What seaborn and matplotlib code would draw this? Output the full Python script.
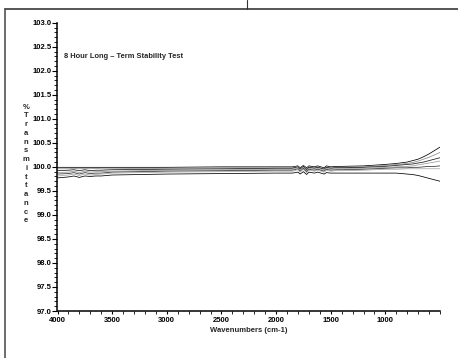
import numpy as np
import pandas as pd
import matplotlib
matplotlib.use("Agg")
import matplotlib.pyplot as plt
from matplotlib.lines import Line2D
from matplotlib.ticker import MultipleLocator, FormatStrFormatter
import seaborn as sns

wavenumbers = [4000, 3900, 3850, 3800, 3750, 3700, 3650, 3600, 3500, 3000, 2500,
               2000, 1850, 1800, 1780, 1750, 1720, 1700, 1650, 1620, 1560, 1540,
               1500, 1450, 1400, 1200, 1000, 900, 800, 750, 700, 650, 600, 550, 500]

# %T for each repeated scan
scan_1 = [99.99, 99.99, 99.99, 99.99, 99.99, 99.99, 99.99, 99.99, 99.99, 99.99, 100.00,
          100.00, 100.00, 100.02, 99.98, 100.03, 99.98, 100.02, 100.00, 100.02, 99.98, 100.02,
          100.00, 100.01, 100.01, 100.02, 100.05, 100.07, 100.10, 100.13, 100.16, 100.21, 100.27, 100.34, 100.41]
scan_2 = [99.96, 99.96, 99.97, 99.96, 99.97, 99.96, 99.97, 99.96, 99.96, 99.97, 99.98,
          99.98, 99.98, 100.01, 99.96, 100.02, 99.96, 100.00, 99.98, 100.00, 99.96, 100.00,
          99.98, 99.99, 99.99, 100.00, 100.03, 100.05, 100.07, 100.09, 100.12, 100.16, 100.20, 100.25, 100.30]
scan_3 = [99.92, 99.93, 99.94, 99.92, 99.94, 99.92, 99.93, 99.93, 99.94, 99.95, 99.96,
          99.97, 99.97, 100.00, 99.95, 100.01, 99.94, 99.99, 99.97, 99.99, 99.95, 99.99,
          99.97, 99.98, 99.98, 99.99, 100.01, 100.03, 100.05, 100.06, 100.08, 100.10, 100.13, 100.16, 100.19]
scan_4 = [99.88, 99.89, 99.91, 99.88, 99.91, 99.89, 99.90, 99.90, 99.91, 99.93, 99.94,
          99.95, 99.95, 99.98, 99.93, 99.99, 99.92, 99.97, 99.95, 99.97, 99.93, 99.97,
          99.95, 99.96, 99.96, 99.97, 99.99, 100.00, 100.01, 100.02, 100.04, 100.06, 100.08, 100.10, 100.12]
scan_5 = [99.85, 99.86, 99.88, 99.85, 99.88, 99.86, 99.87, 99.87, 99.89, 99.91, 99.92,
          99.93, 99.93, 99.96, 99.91, 99.97, 99.90, 99.95, 99.93, 99.95, 99.91, 99.95,
          99.93, 99.94, 99.94, 99.95, 99.97, 99.98, 99.98, 99.99, 99.99, 100.00, 100.01, 100.01, 100.02]
scan_6 = [99.81, 99.83, 99.85, 99.82, 99.85, 99.83, 99.84, 99.85, 99.87, 99.89, 99.90,
          99.91, 99.91, 99.94, 99.89, 99.95, 99.88, 99.93, 99.91, 99.93, 99.89, 99.93,
          99.91, 99.92, 99.92, 99.93, 99.95, 99.95, 99.96, 99.96, 99.96, 99.96, 99.96, 99.96, 99.96]
scan_7 = [99.77, 99.79, 99.81, 99.78, 99.81, 99.80, 99.81, 99.81, 99.83, 99.85, 99.86,
          99.87, 99.87, 99.89, 99.85, 99.90, 99.84, 99.89, 99.87, 99.89, 99.85, 99.88,
          99.87, 99.87, 99.87, 99.87, 99.87, 99.87, 99.85, 99.84, 99.82, 99.79, 99.76, 99.73, 99.70]

scans = [scan_1, scan_2, scan_3, scan_4, scan_5, scan_6, scan_7]
scan_names = [f"scan {i + 1}" for i in range(len(scans))]
scan_colors = ["#000000", "#8a8a8a", "#1a1a1a", "#9a9a9a", "#303030", "#a5a5a5", "#000000"]

title = "8 Hour Long \u2013 Term Stability Test"
y_label = "%Transmittance"
x_label = "Wavenumbers (cm-1)"

df = pd.DataFrame({
    "wn": wavenumbers * len(scans),
    "T": [v for s in scans for v in s],
    "scan": [n for n in scan_names for _ in wavenumbers],
})

sns.set_style("ticks")
plt.rcParams["font.family"] = ["Liberation Sans", "DejaVu Sans"]
plt.rcParams["font.weight"] = "bold"

fig = plt.figure(figsize=(4.58, 3.58), dpi=100)
ax = fig.add_axes([57.5 / 458, 47 / 358, 382.5 / 458, 288.3 / 358])

sns.lineplot(data=df, x="wn", y="T", hue="scan", palette=dict(zip(scan_names, scan_colors)),
             linewidth=0.55, legend=False, ax=ax, sort=False)

ax.set_xlim(4000, 500)
ax.set_ylim(97.0, 103.0)
ax.set_xticks([4000, 3500, 3000, 2500, 2000, 1500, 1000])
ax.xaxis.set_minor_locator(MultipleLocator(100))
ax.yaxis.set_major_locator(MultipleLocator(0.5))
ax.yaxis.set_minor_locator(MultipleLocator(0.1))
ax.yaxis.set_major_formatter(FormatStrFormatter("%.1f"))

sns.despine(ax=ax)
for side in ["left", "bottom"]:
    ax.spines[side].set_linewidth(1.1)
    ax.spines[side].set_color("black")

ax.tick_params(axis="both", which="major", labelsize=5.5, width=0.8, length=3.5, pad=1, colors="black")
ax.tick_params(axis="both", which="minor", width=0.6, length=2, colors="black")
ax.tick_params(axis="x", which="both", length=2.5)
ax.tick_params(axis="x", which="major", pad=2)
for lbl in ax.get_xticklabels() + ax.get_yticklabels():
    lbl.set_fontweight("bold")

ax.set_xlabel(x_label, fontsize=5.5, fontweight="bold", labelpad=2)
ax.set_ylabel("\n".join(y_label), fontsize=5.5, fontweight="bold", rotation=0,
              ha="center", va="center", linespacing=1.35)
ax.yaxis.set_label_coords(-0.082, 0.51)

ax.text(3945, 102.3, title, fontsize=5.4, fontweight="bold", ha="left", va="center")

# page frame around the chart
fig.add_artist(Line2D([5 / 458, 5 / 458], [0, 1 - 8.5 / 358], transform=fig.transFigure,
                      color="#444444", linewidth=1.1))
fig.add_artist(Line2D([5 / 458, 1], [1 - 8.5 / 358, 1 - 8.5 / 358], transform=fig.transFigure,
                      color="#555555", linewidth=1.4))
fig.add_artist(Line2D([247 / 458, 247 / 458], [1 - 8.5 / 358, 1], transform=fig.transFigure,
                      color="#333333", linewidth=0.8))

fig.savefig("out.png", dpi=100)
